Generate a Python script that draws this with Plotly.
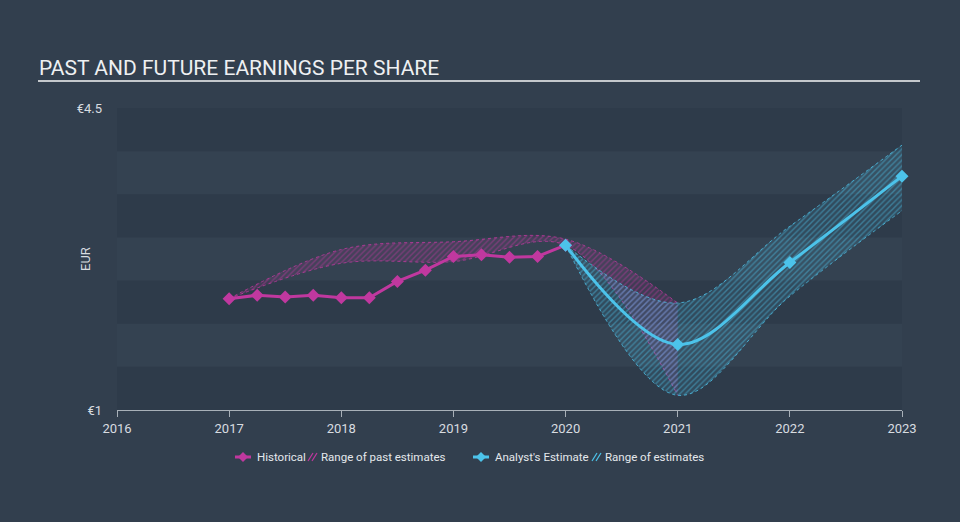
import plotly.graph_objects as go

# ---- data ----
hist_x = [2017.0, 2017.25, 2017.5, 2017.75, 2018.0, 2018.25, 2018.5, 2018.75,
          2019.0, 2019.25, 2019.5, 2019.75, 2020.0]
hist_y = [2.29, 2.33, 2.31, 2.33, 2.30, 2.30, 2.49, 2.62, 2.78, 2.80, 2.77, 2.78, 2.91]

past_x = [2017, 2018, 2019, 2020, 2021]
past_hi = [2.29, 2.86, 2.95, 2.98, 2.24]
past_lo = [2.29, 2.70, 2.72, 2.91, 1.17]

est_x = [2020, 2021, 2022, 2023]
est_y = [2.91, 1.76, 2.71, 3.71]
est_hi = [2.91, 2.24, 3.13, 4.07]
est_lo = [2.91, 1.17, 2.32, 3.31]

y_ticks = [1, 4.5]
y_tick_text = ["€1", "€4.5"]
x_ticks = [2016, 2017, 2018, 2019, 2020, 2021, 2022, 2023]

legend_labels = ["Historical", "Range of past estimates", "Analyst's Estimate", "Range of estimates"]

MAG = "#c0389f"
BLU = "#4cc3ea"
FONT = "Roboto"
BG = "#323f4e"
TXT = "#e4e8ec"

# plot area in pixels (for paper-coordinate conversions of decorations)
L, R, T, B = 117, 902, 108, 410


def px(xp):
    return (xp - L) / (R - L)


def py(yp):
    return (B - yp) / (B - T)


fig = go.Figure()

# past estimates range
fig.add_trace(go.Scatter(x=past_x, y=past_hi, mode="lines", line=dict(color=MAG, width=0.8, shape="spline", dash="dot"),
                         showlegend=False, hoverinfo="skip"))
fig.add_trace(go.Scatter(x=past_x, y=past_lo, mode="lines", line=dict(color=MAG, width=0.8, shape="spline", dash="dot"),
                         fill="tonexty", fillcolor="rgba(192,56,159,0.12)",
                         fillpattern=dict(shape="/", fgcolor="rgba(192,56,159,0.85)", bgcolor="rgba(192,56,159,0.12)",
                                          size=4, solidity=0.35),
                         showlegend=False, hoverinfo="skip"))

# analyst range
fig.add_trace(go.Scatter(x=est_x, y=est_hi, mode="lines", line=dict(color=BLU, width=0.8, shape="spline", dash="dot"),
                         showlegend=False, hoverinfo="skip"))
fig.add_trace(go.Scatter(x=est_x, y=est_lo, mode="lines", line=dict(color=BLU, width=0.8, shape="spline", dash="dot"),
                         fill="tonexty", fillcolor="rgba(76,195,234,0.12)",
                         fillpattern=dict(shape="/", fgcolor="rgba(76,195,234,0.85)", bgcolor="rgba(76,195,234,0.12)",
                                          size=4, solidity=0.35),
                         showlegend=False, hoverinfo="skip"))

# historical
fig.add_trace(go.Scatter(x=hist_x, y=hist_y, mode="lines+markers", name="Historical", showlegend=False,
                         line=dict(color=MAG, width=3),
                         marker=dict(symbol="diamond", size=10, color=MAG), cliponaxis=False))

# analyst estimate
fig.add_trace(go.Scatter(x=est_x, y=est_y, mode="lines+markers", name="Analyst's Estimate", showlegend=False,
                         line=dict(color=BLU, width=3, shape="spline"),
                         marker=dict(symbol="diamond", size=10, color=BLU), cliponaxis=False))

# alternating bands
shapes = []
for i in range(7):
    lo = 1 + 0.5 * i
    if i % 2 == 0:
        shapes.append(dict(type="rect", xref="paper", yref="y", x0=0, x1=1, y0=lo, y1=lo + 0.5,
                           fillcolor="#2e3b4a", line=dict(width=0), layer="below"))
# title underline
shapes.append(dict(type="line", xref="paper", yref="paper", x0=px(38), x1=px(920), y0=py(81), y1=py(81),
                   line=dict(color="#c4c8cc", width=2)))

annotations = [
    dict(text="PAST AND FUTURE EARNINGS PER SHARE", xref="paper", yref="paper",
         x=px(37), xanchor="left", y=py(68), yanchor="middle",
         showarrow=False, font=dict(size=21, color="#eef0f2", family=FONT)),
    dict(text="EUR", xref="paper", yref="paper", x=px(85), y=py(259), xanchor="center", yanchor="middle",
         textangle=-90, showarrow=False, font=dict(size=13, color="#d8dce0", family=FONT)),
]

# ---- custom legend ----
LY = 457


def line_icon(x0, color):
    shapes.append(dict(type="line", xref="paper", yref="paper", x0=px(x0), x1=px(x0 + 16), y0=py(LY), y1=py(LY),
                       line=dict(color=color, width=3)))
    cx = x0 + 8
    d = 5
    shapes.append(dict(type="path", xref="paper", yref="paper",
                       path="M %f,%f L %f,%f L %f,%f L %f,%f Z" % (px(cx - d), py(LY), px(cx), py(LY - d),
                                                                 px(cx + d), py(LY), px(cx), py(LY + d)),
                       fillcolor=color, line=dict(width=0)))


def hatch_icon(x0, color):
    for off in (0, 4):
        shapes.append(dict(type="line", xref="paper", yref="paper",
                           x0=px(x0 + off), x1=px(x0 + off + 5), y0=py(LY + 4), y1=py(LY - 4),
                           line=dict(color=color, width=1.2)))


line_icon(235, MAG)
hatch_icon(308, MAG)
line_icon(473, BLU)
hatch_icon(592, BLU)
for xpos, lab in zip([255, 319, 493, 603], legend_labels):
    annotations.append(dict(text=lab, xref="paper", yref="paper", x=px(xpos), y=py(LY), xanchor="left",
                            yanchor="middle", showarrow=False, font=dict(size=11.5, color=TXT, family=FONT)))

fig.update_layout(
    width=960, height=522,
    margin=dict(l=L, r=960 - R, t=T, b=522 - B),
    paper_bgcolor=BG,
    plot_bgcolor="#344251",
    font=dict(family=FONT, color="#d8dce0", size=12),
    shapes=shapes,
    showlegend=False,
    annotations=annotations,
)

fig.update_xaxes(range=[2016, 2023], tickvals=x_ticks, ticktext=[str(v) for v in x_ticks],
                 showgrid=False, zeroline=False, showline=True, linecolor="#a8b0b8", linewidth=1,
                 ticks="outside", ticklen=6, tickcolor="#a8b0b8",
                 tickfont=dict(size=13, color="#d8dce0"))
fig.update_yaxes(range=[1, 4.5], tickvals=y_ticks, ticktext=y_tick_text, showgrid=False, zeroline=False,
                 showline=False, ticks="", tickfont=dict(size=13, color="#d8dce0"), ticklabelstandoff=14)

fig.write_html("out.html", config={"displayModeBar": False},
               post_script="document.body.style.margin='0';document.body.style.background='%s';" % BG)
